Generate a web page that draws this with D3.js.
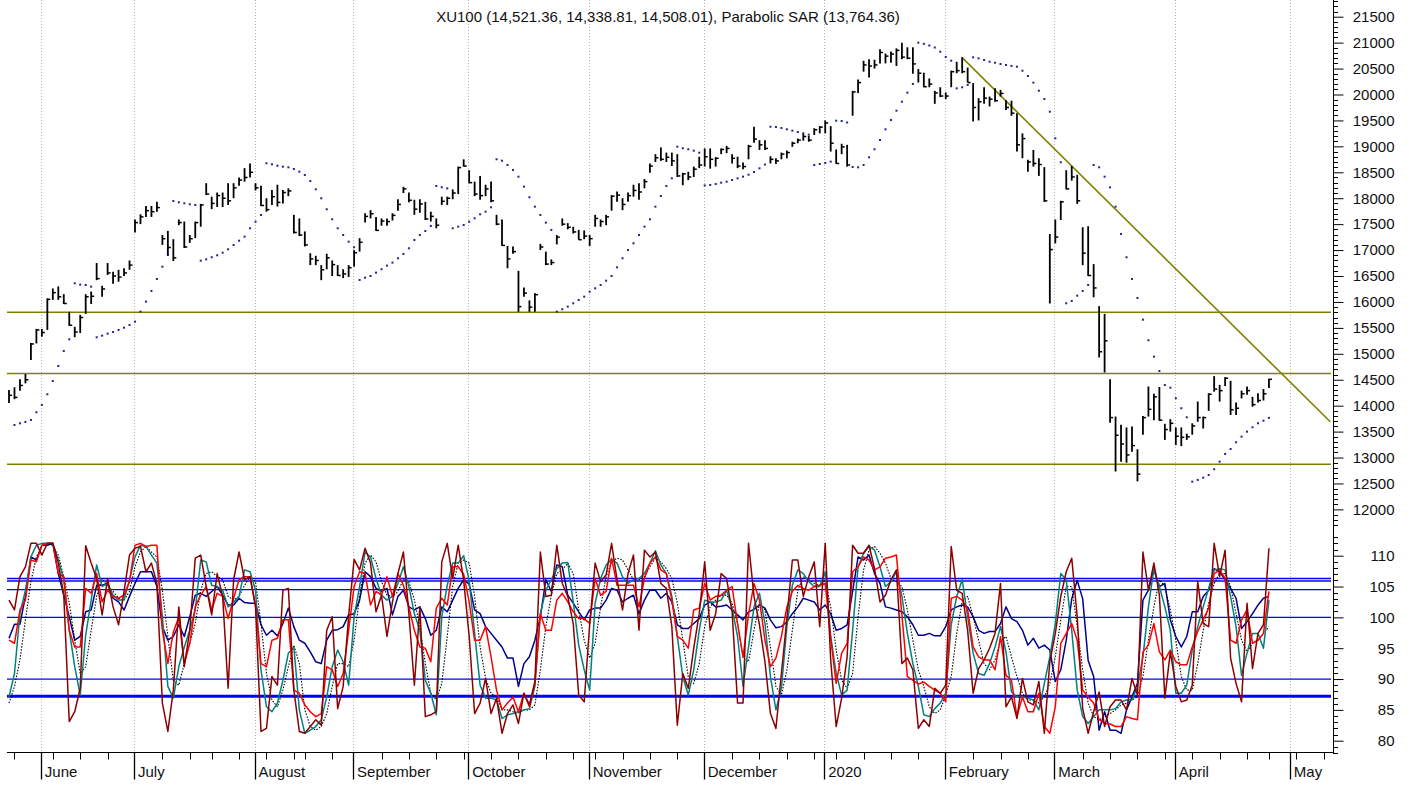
<!DOCTYPE html>
<html><head><meta charset="utf-8">
<script src="https://cdn.jsdelivr.net/npm/d3@7"></script>
<style>body{margin:0;background:#fff;} text{font-family:"Liberation Sans",Arial,sans-serif;}</style>
</head><body><svg id="c" width="1413" height="785"></svg>
<script>
// ---------- DATA ----------
const highs=[14300,14355,14510,14610,15210,15480,15480,16070,16260,16300,
16150,15810,15520,15750,16150,16200,16750,16310,16750,16580,
16620,16650,16800,17590,17690,17850,17850,17930,17290,17370,
17210,17590,17550,17290,17550,17890,18290,18030,18110,18110,
18290,18290,18400,18580,18670,18290,18240,18000,18160,18260,
18160,18190,17680,17610,17360,16940,16890,16710,16930,16800,
16710,16630,16710,17000,17230,17710,17770,17640,17610,17610,
17710,17980,18220,18110,17970,17980,17930,17740,17610,18030,
18030,18170,18610,18750,18540,18320,18430,18260,18320,17680,
17590,17080,17070,16600,16280,16030,16170,17120,16970,16820,
17290,17610,17520,17450,17390,17380,17290,17680,17590,17680,
18060,18130,18000,18110,18260,18290,18370,18670,18850,18980,
18880,18880,18850,18490,18510,18610,18800,18960,18960,18790,
18960,19010,18850,18800,18690,19030,19380,19120,19120,18810,
18770,18880,18920,19090,19150,19240,19200,19350,19390,19500,
19390,18940,19050,19030,20070,20290,20650,20680,20670,20870,
20790,20830,20890,21000,20910,20910,20490,20420,20310,20070,
20140,20040,20460,20630,20720,20520,20220,19930,20140,19960,
20120,20090,19890,19880,19640,19250,18740,18930,18770,18600,
17310,17590,17950,18540,18620,18450,17440,17460,16730,15920,
15770,14510,13790,13630,13580,13600,13160,13800,14370,14230,
14360,13650,13740,13580,13580,13460,13660,14080,13790,14240,
14570,14400,14550,14480,14060,14290,14370,14170,14240,14320,14521.36];
const lows=[14050,14125,14290,14430,14880,15200,15330,15460,16040,16040,
15960,15540,15320,15400,15770,15960,16420,16100,16520,16350,
16390,16500,16620,17340,17500,17640,17640,17740,17100,16900,
16790,17480,17040,17140,17230,17450,18060,17790,17830,17830,
17870,18000,18240,18320,18400,18150,17850,17740,17870,17840,
17900,18040,17320,17270,17070,16710,16710,16420,16630,16500,
16500,16460,16480,16680,16970,17530,17610,17370,17470,17470,
17570,17760,18100,17920,17680,17720,17580,17550,17420,17870,
17870,17980,18080,18610,18290,18040,17970,18040,17920,17480,
17080,16650,16930,15810,16100,15810,15810,17000,16710,16710,
17110,17470,17400,17320,17200,17210,17080,17450,17450,17480,
17760,17930,17770,17930,18030,17970,18190,18490,18700,18720,
18700,18620,18410,18250,18350,18410,18580,18610,18570,18610,
18850,18870,18670,18580,18560,18750,19070,18930,18930,18670,
18660,18750,18770,18990,19060,19110,19090,19220,19250,19250,
18900,18660,18850,18610,19590,20030,20440,20330,20500,20600,
20600,20610,20550,20680,20680,20400,20230,20140,20140,19820,
19950,19910,20140,20410,20410,20230,19480,19500,19820,19770,
19860,19960,19700,19590,18900,18770,18510,18610,18430,17930,
15970,17130,17580,18170,18340,17890,16710,16500,16090,14930,
14640,13670,12730,12920,12900,13110,12540,13440,13790,13720,
13710,13340,13500,13240,13220,13340,13440,13690,13560,13900,
14270,14080,14380,13820,13820,14140,14210,13980,14060,14100,14338.81];
const closes=[14200,14160,14390,14500,15190,15460,15410,16050,16180,16100,
15970,15550,15420,15700,16100,16110,16450,16250,16560,16500,
16480,16560,16710,17530,17640,17760,17740,17820,17220,17050,
16850,17530,17060,17220,17530,17870,18080,17900,18050,18000,
17950,18200,18350,18400,18500,18200,17860,17780,18030,17920,
18110,18140,17340,17290,17100,16830,16800,16620,16850,16720,
16510,16540,16660,16950,17150,17650,17700,17380,17560,17550,
17670,17880,18180,17960,17790,17890,17600,17650,17480,17940,
18000,18100,18590,18620,18300,18080,18050,18180,17950,17500,
17090,16830,16970,15910,16170,15900,16140,17060,16730,16760,
17250,17500,17440,17350,17200,17270,17220,17610,17550,17640,
18040,18060,17880,18050,18150,18120,18320,18620,18780,18750,
18790,18720,18430,18470,18410,18560,18640,18800,18750,18770,
18940,18960,18770,18620,18610,19000,19140,19030,18960,18750,
18720,18850,18880,19060,19120,19190,19120,19320,19370,19450,
19060,18670,18990,18640,20050,20230,20570,20550,20570,20810,
20740,20780,20850,20720,20700,20590,20410,20150,20200,20030,
19970,19970,20440,20460,20440,20230,19750,19860,19930,19910,
19880,20020,19750,19640,19030,19150,18700,18670,18650,17950,
17010,17250,17930,18180,18410,17950,16940,16510,16270,15040,
15250,13770,13430,13260,13050,13230,12680,13770,13930,14170,
13720,13540,13660,13410,13390,13400,13610,13770,13770,14220,
14320,14290,14530,13920,13950,14230,14290,14020,14100,14230,14508.01];
const sar=[null,13628,13660,13686,13724,13873,14014,14220,14476,14765,
15055,15280,16360,16333,16327,16295,15319,15350,15389,15421,
15460,15504,15556,15620,15813,16006,16212,16443,16680,16906,
17947,17921,17902,17883,17870,16796,16822,16861,16900,16950,
17015,17098,17181,17259,17420,17548,17677,18674,18654,18627,
18608,18596,18564,18512,18448,18332,18172,17999,17787,17594,
17420,17291,17162,17054,16424,16468,16500,16565,16630,16700,
16758,16842,16925,17035,17195,17291,17368,17465,18236,18210,
18190,17420,17452,17484,17548,17613,17690,17741,17825,18751,
18724,18641,18544,18415,18223,18018,17837,17677,17529,17388,
15813,15859,15910,15974,16038,16102,16198,16263,16327,16410,
16500,16668,16842,17002,17131,17291,17452,17594,17837,18043,
18236,18384,18994,18963,18944,18917,18878,18246,18255,18274,
18300,18319,18352,18384,18416,18454,18506,18577,18650,19379,
19373,19354,19329,19302,19277,19252,19225,18641,18660,18680,
18705,19495,19489,19460,18602,18596,18641,18789,18944,19123,
19329,19508,19688,19861,20035,20203,20999,20977,20945,20906,
20825,20723,20652,20119,20139,20184,20717,20698,20665,20632,
20613,20588,20569,20550,20536,20459,20357,20228,20073,19913,
19668,19155,18693,15974,16019,16121,16212,16327,18641,18596,
18415,18210,17837,17311,16861,16443,16077,15658,15261,14945,
14669,14399,14347,14143,13950,13776,12535,12568,12612,12664,
12774,12921,13069,13165,13294,13403,13499,13583,13661,13710,13764.36];

const oscMaroon=[102.8,101.2,106.6,108.2,112,112,110.1,112,112,108.8,
103.6,83.1,84.7,88.5,111.6,108.8,106.3,100.4,106.3,101.7,
98.8,104.2,110.1,111.2,111.5,107.4,108.8,105.5,86.1,81.5,
88.2,101.7,92,97.9,109.6,110.1,105,100.4,107.1,103.4,
88.5,106.1,110.6,106.1,106.6,101.7,81.5,82,90.4,89,
104.4,104.7,88.2,81.5,81.2,82.3,83.4,82.5,97.9,100.1,
85.2,88.8,100.2,109.4,107.7,111.2,108.8,100.9,103.6,96.9,
102.5,107.1,110.6,100.6,89,101.7,83.9,84.2,84.7,109,
112,106.3,111.7,106,97,
84.4,86.1,90.1,84.4,86.9,81.2,84.4,85.8,82.8,87.7,
85.8,89.6,110.6,103.4,103.6,111.7,105.5,103.4,99,87.4,
86.3,98.8,108.8,105.8,106.9,112,106.1,101.2,107.1,110.1,
97.9,110.9,109.8,110.6,105.5,104.7,98.5,82.5,90.9,88.5,
95,100.6,109,97.9,100.6,107.1,106.3,100.9,86.1,86.1,
112,103.4,98.8,92.8,84.4,82,90.9,99.8,109.3,109.3,
103.4,106.6,109,98.5,112,93.1,82.3,86.9,93.6,111.7,
110.4,110.4,111.7,107.9,102.5,103.6,106.1,107.7,92.5,93.4,
91.5,82,83.4,82.3,
88.5,87.7,89,111.5,104.4,103.9,97.9,87.7,91.7,93.1,95,
97.4,105.5,85.5,87.1,83.6,90.1,86.3,85.8,89.6,81.2,
92.8,97.4,103.4,107.4,109.6,100.1,85.2,81.2,84.7,87.9,
82.3,85.5,86.6,86.6,85,90.1,87.4,110.6,104.4,108.8,
103.6,86.9,94.4,88.8,86.3,86.6,89,105.8,99,98.5,
112,106.6,110.9,93.4,89.3,86.3,102.3,91.7,97.4,98.8,
111.2];
const oscRed=[96.3,95.8,101.2,102.8,109.3,109,111.7,112,112,107.1,
106.6,97.9,95.2,95.2,104.7,103.9,107.1,102.5,104.4,103.4,
103.1,103.6,105.8,111.7,112,111.5,111.7,111.7,97.9,92.5,
97.6,100.1,92.5,95.8,101.7,103.6,105,101.2,103.9,103.4,
99.8,103.1,106.1,106.6,106.6,102,92.5,92,96.3,96.6,
99.6,99.6,88.2,87.7,85.8,84.7,83.9,84.4,92,91.5,
88.8,90.9,97.9,105,107.4,107.1,102,104.2,103.6,106.6,
103.4,107.1,105.2,101.7,97.9,95.2,95,92.8,101.5,103.1,
102,108.2,108.2,107,102.5,
96.3,96.3,98.5,93.6,88.2,85,86.1,87.1,84.7,87.7,
85.5,89.3,100.6,97.9,97.9,102.8,103.9,102.5,100.9,99.8,
99.8,99,106.3,103.6,104.2,109.6,105.2,105.2,105.2,105.2,
101.7,106.3,108.8,109.8,107.7,107.1,102.8,96.9,96.3,95,
101.2,101.5,105.5,102.8,103.4,103.6,104.4,105,99,93.6,
100.4,105.5,102.8,96.3,92,93.4,96.9,101.7,104.2,105.2,
104.7,104.4,105,105.2,105.5,96.6,89.3,94.2,95.8,107.4,
108.2,109.8,109.3,107.7,108.2,109.6,109.8,110.1,100.4,90.4,
89.8,89.2,89.5,88.8,
88.2,87.7,86.3,103.1,103.4,102.8,101.2,95.2,93.6,93.1,93.1,
91.5,96.9,90.6,89.8,83.9,87.1,84.7,84.7,87.7,82.3,
81.2,85.5,95.8,97.4,99,96.3,88.2,87.1,86.1,83.4,
82.8,82.7,82.3,82.3,83.9,83.6,83.4,94.4,95.5,99,
94.4,93.1,94.7,92.8,92.3,92.3,95.2,97.7,99.6,101.5,
107.1,107.7,106.3,96.3,95.8,99.6,101.2,95.8,96.3,97.4,
104.2];
const oscTeal=[87.1,90.9,100.6,104.4,109.8,111.7,112,112,112,109.3,
106.1,97.9,92,87.4,97.1,102.8,108.5,105,105.5,103.6,
102.8,102.8,106.1,109.8,111.7,111.5,110.1,108.8,100.1,88.8,
86.9,92,95.2,97.9,101.2,109.3,109,105.2,105,104.4,
101.7,102.5,103.4,107.7,107.4,104.4,91.5,85.5,84.7,86.1,
89.8,94.2,95.2,85,81.2,81.7,82.3,83.4,87.1,92,
94.7,92.8,89,100.1,105,110.6,109.8,106.3,103.6,102.8,
103.4,105.5,108.2,105,100.6,97.9,89.8,87.7,84.2,100.1,
105.2,108.8,108.8,110,106,
97.4,89,86.9,86.9,86.6,83.6,84.2,84.4,84.7,85,
85.2,88.8,100.6,104.4,106.1,107.9,108.8,108.9,102.5,95.5,
91.5,88.2,102.3,106.3,108.5,109.4,108.8,106.6,105.5,106.1,
106.3,107.1,108.8,110.8,108.5,107.1,103.4,96.9,90.4,87.4,
91.5,97.9,102.8,102.5,102.5,102.8,104.4,101.5,96.9,88.8,
95.2,101.7,103.9,99,90.4,85,88.5,98.5,105.2,107.7,
107.1,105.8,105,105,107.4,96.9,90.9,87.4,88.2,97.9,
108.2,110.4,111.5,110.9,108.2,105,105.8,107.4,103.4,97.4,
92.5,88.8,84.2,83.9,
85.2,86.1,87.7,98.8,103.4,106.1,100.1,94.2,90.9,90.6,92.5,
95.2,98.5,94.4,87.9,87.1,87.1,86.9,86.6,85,89.3,
93.6,99,107.1,106.1,97.9,88.2,83.9,82.8,83.9,85,
85,85,85.2,86.3,86.6,86.6,88.8,93.6,101.7,107.9,
105,101.7,97.9,87.7,87.7,89,94.7,98.5,101.7,104.7,
107.7,107.9,107.7,103.4,98.5,90.6,94.2,97.4,97.4,95,
102.8];
const oscDotted=[86.1,88.8,93.1,99.6,105.8,109.8,111.5,112,111.7,110.1,
106.6,102.3,96.3,90.9,92,97.9,103.4,106.3,105,104.2,
103.1,102.8,104.2,108.2,110.6,111.5,110.6,109.8,104.4,96.9,
89.8,89,92.5,95.8,99,104.4,107.1,107.4,106.6,106.1,
103.4,102.8,103.4,105.2,106.6,105.8,99,90.9,86.6,85.5,
88.2,92,95.5,92.5,85,82.3,81.7,82.3,84.4,88.8,
92.5,92.5,92,96.3,103.4,108.8,110.1,109,105.8,103.6,
103.4,104.2,106.1,105.8,102.8,98.5,92.5,87.7,86.6,89.3,
96.9,105,108.8,109.3,108.8,
103.4,95.2,90.1,87.7,87.1,85,85,84.7,84.5,85,
85,85.8,91.5,98.5,103.6,107.1,107.7,108.8,107.1,101.2,
96.3,93.4,95.8,101.7,106.6,109,109.6,109.3,107.7,106.1,
106.1,106.6,108.2,109.6,109,107.9,106.3,102.3,96.3,90.4,
89.3,92.5,98.5,101.7,102.8,103.6,103.6,102.3,99,93.4,
92.8,97.9,102.3,101.2,95.2,88.8,87.4,91.5,97.9,104.4,
106.6,106.1,105.5,105.2,106.1,101.7,94.7,89.8,88.5,90.9,
100.1,107.7,110.9,111.5,110.4,108.8,106.3,105.8,105,101.2,
96.3,91.5,88.8,85.5,
84.4,85,87.4,90.4,97.4,102.5,103.4,100.1,96.3,92.5,91.5,
93.1,96.1,96.9,93.6,90.4,87.7,86.6,86.6,86.1,87.1,
89.3,93.6,99.6,105,105,98.5,91.5,86.1,83.9,83.4,
83.9,84.4,85,85.8,86.1,86.6,87.1,90.4,96.3,101.7,
106.1,105,101.2,96.3,90.4,88.2,88.2,92.5,97.9,102.3,
105.5,107.1,107.1,105,100.6,96.3,94.4,95.8,96.3,97.4,
98.5];
const oscNavy=[96.6,98.9,98.9,103.4,109.8,109.3,111.7,111.7,112,107.1,
103.6,100.1,96.3,96.9,100.9,101.2,105.2,105.2,105.5,103.1,
102.5,101.2,103.4,105.5,107.4,107.4,107.4,105,98.5,96.3,
96.9,98.8,96.9,100.1,103.6,103.9,103.4,104.2,105,103.6,
102,102,103.1,102.4,102.3,102.3,98.8,97.1,97.9,97,
99,101.5,98.5,96.3,95.8,94.4,92.8,92.5,96.3,97.9,
98,98.5,100.4,100.6,102.8,107.4,106.6,104.7,104.2,104.7,
100.4,103.4,104.4,101.7,101.2,101.7,99.8,97.1,97.9,101.7,
100.9,102.8,104.7,106.1,105.4,
101.2,100.6,98.5,97.4,96.3,95.2,93.4,93.4,88.8,92.5,
93.6,96.3,100.1,106.1,104.2,108.5,108.2,103.6,102.3,100.9,
99.6,101.2,101.5,101.5,102.8,104.7,104.4,102.5,103.1,103.6,
100.6,102.8,104.4,104.4,103.1,103.9,102.5,98.8,98.2,98.2,
99,99.8,102,102.5,101.7,101.8,102,101.2,100.4,99.6,
100.9,101.3,102,101.5,99.6,98.3,98.5,99.3,100.6,101.7,
103.1,102.8,102.5,101.2,102,100.6,97.9,98.2,98.8,104.2,
109.8,109.3,110.1,107.1,105.5,101.7,101.5,101.2,100.9,100.1,
98.8,97.1,97.1,97.4,
97,97,98.5,101.2,101.7,102,101.7,100.1,97.9,97.4,97.7,
97.7,99,101.7,99.8,99.3,97.9,95.5,96.6,95,95.5,
94.7,89.6,91.5,96.3,103,106,103,93,90.4,81.7,
84.7,81.7,81.7,81.2,85,87.1,89.3,102.8,104.4,107.7,
105,105.5,99.6,96.9,95.2,96.9,100.9,100.9,103.4,104.4,
107.9,107.4,106.1,104.7,103.1,98.2,99.3,100.6,102,103.1,
103.4];

const monthLabels=["June","July","August","September","October","November","December","2020","February","March","April","May"];
const monthIdx=[6,23,45,63,84,106,127,149,171,191,213,234];
const weekIdx=[1,8,13,18,28,33,37,42,47,52,54,59,68,73,78,83,88,93,98,103,107,112,117,122,132,137,142,147,151,156,161,166,176,181,186,196,201,206,211,216,221,226,230,235,240];
const priceLevels=[15800,14620,12870];
const trendIdx=[174,241.2], trendPrice=[20710,13690];
const oscLevels=[106.3,105.9,104.5,100,90];
const oscThickLevel=87.2;
const titleText="XU100 (14,521.36, 14,338.81, 14,508.01), Parabolic SAR (13,764.36)";

// ---------- CHART ----------
const svg=d3.select("#c");
const L=7, R=1333, AXY=752.5;
const x=d3.scaleLinear().domain([0,230]).range([9,9+5.478*230]);
const yP=d3.scaleLinear().domain([12000,21500]).range([509.4,16.7]);
const yO=d3.scaleLinear().domain([80,110]).range([740.7,555.7]);

svg.append("defs").append("clipPath").attr("id","plot").append("rect").attr("x",L).attr("y",0).attr("width",R-L-2).attr("height",AXY);

// month gridlines
svg.append("g").selectAll("line").data(monthIdx).join("line")
 .attr("x1",d=>Math.round(x(d))-0.5).attr("x2",d=>Math.round(x(d))-0.5).attr("y1",0).attr("y2",AXY)
 .attr("stroke","#b8b8b8").attr("stroke-width",1).attr("stroke-dasharray","1,2");

const pg=svg.append("g").attr("clip-path","url(#plot)");
// olive levels
pg.selectAll("line.lv").data(priceLevels).join("line").attr("class","lv")
 .attr("x1",L).attr("x2",R).attr("y1",d=>yP(d)).attr("y2",d=>yP(d))
 .attr("stroke","#808000").attr("stroke-width",1.6);
pg.append("line").attr("x1",x(trendIdx[0])).attr("y1",yP(trendPrice[0])).attr("x2",x(trendIdx[1])).attr("y2",yP(trendPrice[1]))
 .attr("stroke","#808000").attr("stroke-width",1.6);

// PSAR dots
pg.selectAll("rect.sar").data(sar.map((v,i)=>({v,i})).filter(d=>d.v!==null)).join("rect").attr("class","sar")
 .attr("x",d=>x(d.i)-1).attr("y",d=>yP(d.v)-1).attr("width",2).attr("height",2).attr("fill","#22229a");

// HLC bars
const idx=d3.range(highs.length);
pg.selectAll("line.hl").data(idx).join("line").attr("class","hl")
 .attr("x1",i=>x(i)).attr("x2",i=>x(i)).attr("y1",i=>yP(highs[i])).attr("y2",i=>yP(lows[i]))
 .attr("stroke","#000").attr("stroke-width",1.8);
pg.selectAll("line.cl").data(idx).join("line").attr("class","cl")
 .attr("x1",i=>x(i)).attr("x2",i=>x(i)+3).attr("y1",i=>yP(closes[i])).attr("y2",i=>yP(closes[i]))
 .attr("stroke","#000").attr("stroke-width",1.5);

// title
svg.append("text").attr("x",668).attr("y",22).attr("text-anchor","middle").attr("font-size",15).attr("fill","#111").text(titleText);

// oscillator levels
pg.selectAll("line.ol").data(oscLevels).join("line").attr("class","ol")
 .attr("x1",L).attr("x2",R).attr("y1",d=>yO(d)).attr("y2",d=>yO(d))
 .attr("stroke","#0000ff").attr("stroke-width",1.3);
pg.append("line").attr("x1",L).attr("x2",R).attr("y1",yO(oscThickLevel)).attr("y2",yO(oscThickLevel))
 .attr("stroke","#0000ff").attr("stroke-width",3);

const line=d3.line().x((d,i)=>x(i)).y(d=>yO(d));
const series=[[oscNavy,"#00008b",1.5,null],[oscDotted,"#000",1.1,"1.5,1.5"],[oscTeal,"#008080",1.5,null],[oscRed,"#ff0000",1.5,null],[oscMaroon,"#8b0000",1.5,null]];
series.forEach(([arr,col,w,dash])=>{
  const p=pg.append("path").datum(arr).attr("d",line).attr("fill","none").attr("stroke",col).attr("stroke-width",w).attr("stroke-linejoin","round");
  if(dash) p.attr("stroke-dasharray",dash);
});

// right axes
svg.append("line").attr("x1",R+0.5).attr("x2",R+0.5).attr("y1",0).attr("y2",AXY).attr("stroke","#000");
const pMinor=d3.range(11700,21801,100).filter(v=>v%500!==0);
svg.append("g").selectAll("line").data(pMinor).join("line").attr("x1",R).attr("x2",R+5).attr("y1",d=>Math.round(yP(d))+0.5).attr("y2",d=>Math.round(yP(d))+0.5).attr("stroke","#000");
const pAxis=svg.append("g").attr("transform",`translate(${R+0.5},0)`).call(d3.axisRight(yP).tickValues(d3.range(12000,21501,500)).tickSize(10).tickFormat(d3.format("d")));
pAxis.select(".domain").remove();
pAxis.selectAll("text").attr("x",61).attr("text-anchor","end").attr("font-size",15).attr("font-family","Liberation Sans, Arial, sans-serif").attr("fill","#111");

const oMinor=d3.range(78,114,1).filter(v=>v%5!==0);
svg.append("g").selectAll("line").data(oMinor).join("line").attr("x1",R).attr("x2",R+5).attr("y1",d=>Math.round(yO(d))+0.5).attr("y2",d=>Math.round(yO(d))+0.5).attr("stroke","#000");
const oAxis=svg.append("g").attr("transform",`translate(${R+0.5},0)`).call(d3.axisRight(yO).tickValues(d3.range(80,111,5)).tickSize(10).tickFormat(d3.format("d")));
oAxis.select(".domain").remove();
oAxis.selectAll("text").attr("x",61).attr("text-anchor","end").attr("font-size",15).attr("font-family","Liberation Sans, Arial, sans-serif").attr("fill","#111");

// bottom axis
svg.append("line").attr("x1",L).attr("x2",R+1).attr("y1",AXY).attr("y2",AXY).attr("stroke","#000");
svg.append("g").selectAll("line").data(weekIdx).join("line")
 .attr("x1",d=>Math.round(x(d))+0.5).attr("x2",d=>Math.round(x(d))+0.5).attr("y1",AXY).attr("y2",AXY+7).attr("stroke","#000");
svg.append("g").selectAll("line").data(monthIdx).join("line")
 .attr("x1",d=>Math.round(x(d))-0.5).attr("x2",d=>Math.round(x(d))-0.5).attr("y1",AXY).attr("y2",AXY+27).attr("stroke","#000").attr("stroke-width",1.3);
svg.append("g").selectAll("text").data(monthIdx).join("text")
 .attr("x",d=>x(d)+3).attr("y",777).attr("font-size",15).attr("fill","#111").text((d,i)=>monthLabels[i]);
</script></body></html>
